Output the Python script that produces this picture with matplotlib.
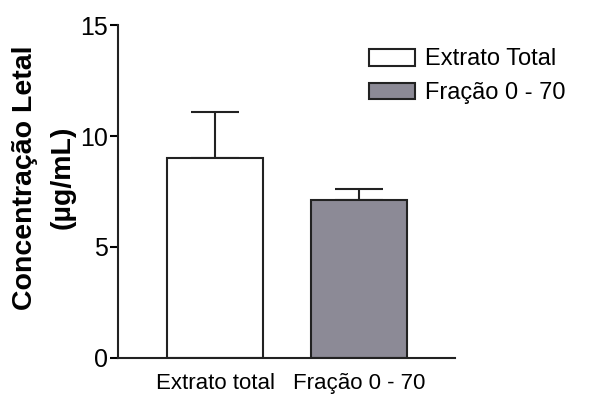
import matplotlib.pyplot as plt

plt.rcParams['font.family'] = ['Liberation Sans', 'DejaVu Sans']

amostras = ['Extrato total', 'Fração 0 - 70']
legenda = ['Extrato Total', 'Fração 0 - 70']
cl = [9.0, 7.1]
erro = [2.1, 0.5]
cores = ['white', '#8c8a96']

fig = plt.figure(figsize=(5.89, 3.94), dpi=100)
ax = fig.add_axes([0.2003, 0.0914, 0.5722, 0.8451])

pos = range(len(cl))
for i in pos:
    ax.bar(i, cl[i], width=0.667, color=cores[i], edgecolor='#222222',
           linewidth=1.5, label=legenda[i], zorder=2)
    ax.errorbar(i, cl[i], yerr=[[0], [erro[i]]], fmt='none', ecolor='#222222',
                elinewidth=1.5, capsize=17, capthick=1.5, zorder=1)

ax.set_xlim(-0.674, 1.667)
ax.set_ylim(0, 15)
ax.set_yticks([0, 5, 10, 15])
ax.set_xticks(list(pos))
ax.set_xticklabels(amostras, fontsize=16)
ax.tick_params(axis='x', length=0, pad=11)
ax.tick_params(axis='y', labelsize=18, length=6, width=1.5, pad=1, direction='out')

for s in ['top', 'right']:
    ax.spines[s].set_visible(False)
for s in ['left', 'bottom']:
    ax.spines[s].set_linewidth(1.5)
    ax.spines[s].set_color('#222222')

fig.text(0.043, 0.549, 'Concentração Letal', rotation=90, fontsize=20.5,
         fontweight='bold', ha='center', va='center')
fig.text(0.107, 0.549, '(µg/mL)', rotation=90, fontsize=20.5,
         fontweight='bold', ha='center', va='center')

ax.legend(loc='upper left', bbox_to_anchor=(0.6265, 0.877),
          bbox_transform=fig.transFigure, frameon=False,
          fontsize=17, handlelength=1.95, handleheight=0.72, handletextpad=0.42,
          labelspacing=0.5, borderpad=0, borderaxespad=0)

fig.savefig('out.png', dpi=100)
